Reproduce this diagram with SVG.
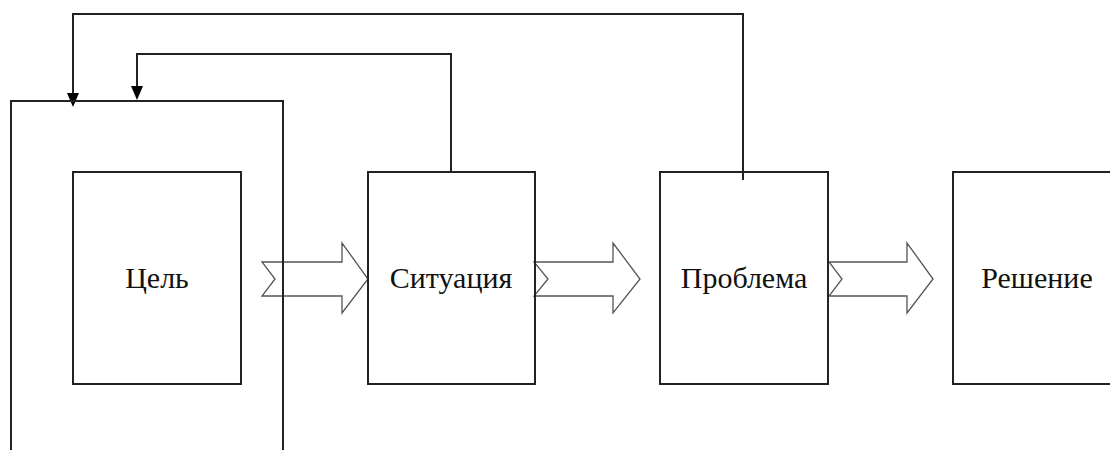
<svg xmlns="http://www.w3.org/2000/svg" width="1110" height="450" viewBox="0 0 1110 450">
<style>
.box{fill:none;stroke:#222;stroke-width:2}
.ln{fill:none;stroke:#222;stroke-width:2}
.blk{fill:#fff;stroke:#555;stroke-width:1.3;stroke-linejoin:miter}
.t{font-family:"Liberation Serif","Times New Roman",serif;font-size:30px;fill:#111;text-anchor:middle}
</style>
<rect width="1110" height="450" fill="#fff"/>
<g id="connectors">
<path class="blk" d="M262,262 L342,262 L342,243 L368,279 L342,313 L342,296 L262,296 L275,279 Z"/>
<path class="blk" d="M534,262 L613,262 L613,243 L640,279 L613,313 L613,296 L534,296 L548,279 Z"/>
<path class="blk" d="M829,262 L907,262 L907,243 L933,279 L907,313 L907,296 L829,296 L842,279 Z"/>
<path class="ln" d="M743,180 L743,14 L73,14 L73,93"/>
<path d="M67,93 L79,93 L73,107 Z" fill="#000"/>
<path class="ln" d="M451,172 L451,54 L137,54 L137,86"/>
<path d="M131,86 L143,86 L137,100 Z" fill="#000"/>
</g>
<g id="frame">
<path class="ln" d="M11,452 L11,101 L283,101 L283,452"/>
</g>
<g id="goal">
<rect class="box" x="73" y="172" width="168" height="212"/>
<text class="t" x="157" y="288">Цель</text>
</g>
<g id="situation">
<rect class="box" x="368" y="172" width="167" height="212"/>
<text class="t" x="451" y="288">Ситуация</text>
</g>
<g id="problem">
<rect class="box" x="660" y="172" width="168" height="212"/>
<text class="t" x="744" y="288">Проблема</text>
</g>
<g id="solution">
<rect class="box" x="953" y="172" width="170" height="212"/>
<text class="t" x="1037" y="288">Решение</text>
</g>
</svg>
